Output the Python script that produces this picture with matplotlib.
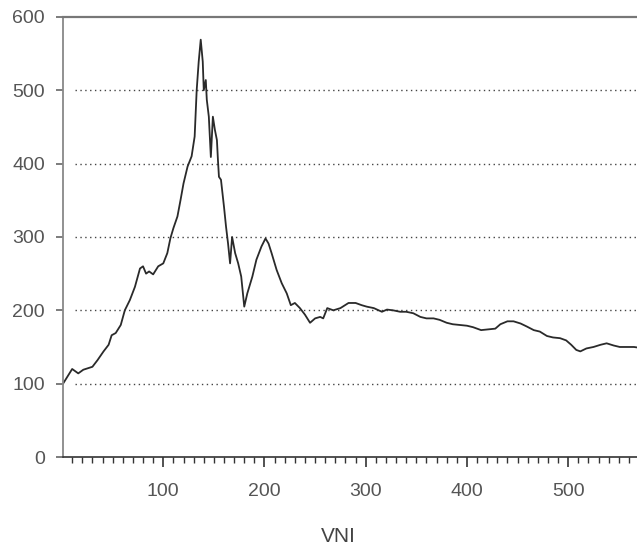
import matplotlib
matplotlib.use("Agg")
from matplotlib import pyplot as plt
from matplotlib.ticker import MultipleLocator

obs = [1, 10, 16, 21, 30, 35, 41, 46, 49, 53, 58, 62, 67, 72, 77, 80, 83, 86,
       90, 95, 100, 104, 107, 110, 114, 117, 120, 124, 128, 131, 133, 135,
       137, 139, 140, 142, 143, 145, 147, 149, 151, 153, 154, 155, 157, 160,
       162, 164, 166, 168, 171, 174, 177, 180, 183, 188, 192, 197, 201, 204,
       207, 212, 217, 222, 226, 230, 235, 240, 245, 250, 255, 258, 262, 268,
       275, 283, 290, 296, 301, 308, 316, 321, 327, 334, 340, 347, 354, 360,
       367, 373, 380, 386, 393, 400, 406, 414, 421, 428, 433, 440, 446, 453,
       459, 466, 472, 479, 485, 492, 498, 503, 508, 512, 518, 525, 532, 538,
       545, 551, 558, 565, 570]
vni = [100, 120, 114, 119, 123, 132, 144, 153, 166, 169, 180, 200, 214, 232,
       257, 260, 250, 253, 249, 260, 264, 278, 298, 312, 328, 350, 373, 396,
       410, 437, 500, 539, 569, 539, 500, 514, 487, 464, 409, 464, 446, 432,
       405, 382, 378, 341, 314, 291, 264, 300, 278, 264, 246, 205, 223, 246,
       269, 287, 298, 291, 278, 255, 237, 223, 207, 210, 203, 194, 183, 189,
       191, 189, 203, 200, 203, 210, 210, 207, 205, 203, 198, 201, 200, 198,
       198, 196, 191, 189, 189, 187, 183, 181, 180, 179, 177, 173, 174, 175,
       181, 185, 185, 182, 178, 173, 171, 165, 163, 162, 159, 153, 146, 144,
       148, 150, 153, 155, 152, 150, 150, 150, 149]

yticks = [0, 100, 200, 300, 400, 500, 600]
xticks = [100, 200, 300, 400, 500]

plt.rcParams['font.family'] = ['Liberation Sans', 'DejaVu Sans']

fig = plt.figure(figsize=(6.37, 5.46), dpi=100)
ax = fig.add_axes([0.099, 0.163, 0.901, 0.806])

ax.plot(obs, vni, color='#2a2a2a', linewidth=1.3)

ax.set_xlim(1, 568)
ax.set_ylim(0, 600)
ax.set_yticks(yticks)
ax.set_xticks(xticks)
ax.xaxis.set_minor_locator(MultipleLocator(10))

# broken dotted grid at 100..500
for v in yticks[1:-1]:
    ax.axhline(v, xmin=0.02, color='#444444', linestyle=(0, (1, 2.5)),
               linewidth=1.0, zorder=0)

ax.spines['right'].set_visible(False)
ax.spines['top'].set_color('#777777')
ax.spines['top'].set_linewidth(1.6)
ax.spines['left'].set_color('#888888')
ax.spines['left'].set_linewidth(1.3)
ax.spines['bottom'].set_color('#333333')
ax.spines['bottom'].set_linewidth(1.2)

ax.tick_params(axis='y', direction='out', length=5, width=1.2,
               color='#666666', labelsize=14, labelcolor='#555555', pad=8)
ax.tick_params(axis='x', which='major', direction='out', length=7, width=1.2,
               color='#333333', labelsize=14, labelcolor='#555555', pad=12)
ax.tick_params(axis='x', which='minor', direction='out', length=4, width=1.0,
               color='#333333')

ax.set_xlabel("VNI", fontsize=15, color='#444444')
ax.xaxis.set_label_coords(0.48, -0.158)

plt.savefig("out.png", dpi=100)
